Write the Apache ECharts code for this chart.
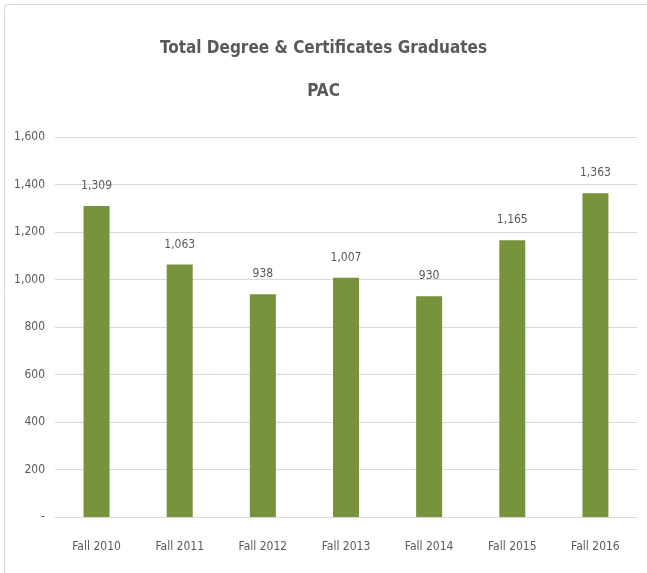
<!DOCTYPE html>
<html>
<head>
<meta charset="utf-8">
<script src="https://cdn.jsdelivr.net/npm/echarts@6/dist/echarts.min.js"></script>
<style>
html, body { margin: 0; padding: 0; background: #fff; }
#chart { width: 647px; height: 573px; }
</style>
</head>
<body>
<div id="chart"></div>
<script>
var categories = ['Fall 2010', 'Fall 2011', 'Fall 2012', 'Fall 2013', 'Fall 2014', 'Fall 2015', 'Fall 2016'];
var graduates = [1309, 1063, 938, 1007, 930, 1165, 1363];
var titleLines = ['Total Degree & Certificates Graduates', 'PAC'];

var font = '"DejaVu Sans Condensed", Roboto, sans-serif';
var textColor = '#595959';

function fmt(v) {
  if (v === 0) return '-';
  return v.toString().replace(/\B(?=(\d{3})+(?!\d))/g, ',');
}

var chart = echarts.init(document.getElementById('chart'));
chart.setOption({
  animation: false,
  graphic: [{
    type: 'rect',
    shape: { x: 4.5, y: 4.5, width: 660, height: 600, r: 4 },
    style: { fill: 'none', stroke: '#d9d9d9', lineWidth: 1 },
    silent: true
  }],
  title: {
    text: titleLines.join('\n'),
    left: 'center',
    top: 22,
    textStyle: {
      fontFamily: font,
      fontSize: 17,
      fontWeight: 'bold',
      color: textColor,
      lineHeight: 43
    }
  },
  grid: {
    left: 55,
    right: 10,
    top: 137,
    bottom: 56
  },
  xAxis: {
    type: 'category',
    data: categories,
    axisTick: { show: false },
    axisLine: { lineStyle: { color: '#d9d9d9' } },
    axisLabel: {
      fontFamily: font,
      fontSize: 12,
      color: textColor,
      margin: 24
    }
  },
  yAxis: {
    type: 'value',
    min: 0,
    max: 1600,
    interval: 200,
    axisLine: { show: false },
    axisTick: { show: false },
    splitLine: { lineStyle: { color: '#d9d9d9' } },
    axisLabel: {
      fontFamily: font,
      fontSize: 12,
      color: textColor,
      margin: 10,
      formatter: fmt
    }
  },
  series: [{
    type: 'bar',
    data: graduates,
    barWidth: 26,
    itemStyle: { color: '#77933c' },
    label: {
      show: true,
      position: 'top',
      distance: 14,
      fontFamily: font,
      fontSize: 12,
      color: textColor,
      formatter: function (p) { return fmt(p.value); }
    }
  }]
});
</script>
</body>
</html>
